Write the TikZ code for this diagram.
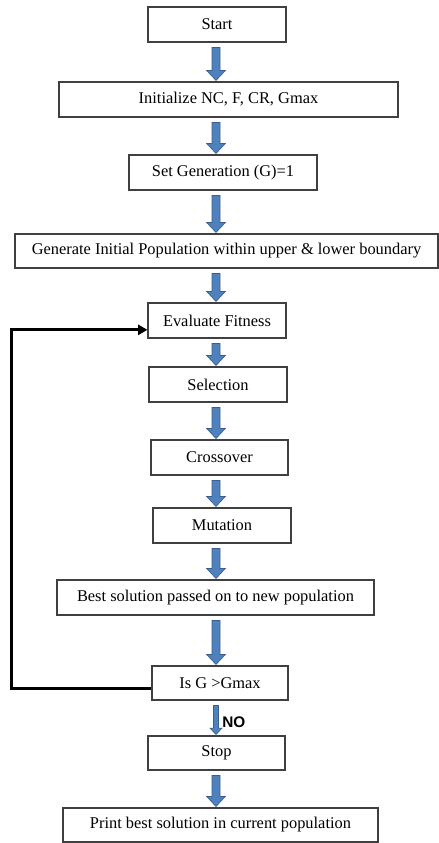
\documentclass[tikz,border=0pt]{standalone}
\usepackage{fontspec}
\setmainfont{Liberation Serif}
\newfontfamily\labelfont{Liberation Sans}
\usetikzlibrary{calc,arrows.meta}
\definecolor{arrowfill}{HTML}{4F81BD}
\definecolor{arrowline}{HTML}{3A5F8F}
\definecolor{boxline}{HTML}{404040}
\newcommand\pxu{0.75pt}
\tikzset{
  stepbox/.style 2 args={draw=boxline, line width=0.8pt, inner sep=0pt, minimum width=#1*\pxu, minimum height=#2*\pxu, font=\fontsize{12.3}{14}\selectfont},
  blockflow/.style n args={3}{draw=arrowline, fill=arrowfill, line width=0.5pt, line join=miter,
    to path={let \p1=(\tikztostart), \p2=(\tikztotarget) in
      (\x1-#1,\y1-3.75pt) -- (\x1+#1,\y1-3.75pt) -- (\x1+#1,\y2+#3) -- (\x1+#2,\y2+#3) -- (\x1,\y2+0.75pt) -- (\x1-#2,\y2+#3) -- (\x1-#1,\y2+#3) -- cycle}},
  flow/.style={blockflow={3pt}{7pt}{8.25pt}},
  loopback/.style={draw=black, line width=2.25pt, -{Triangle[length=7pt,width=7.5pt]}},
}

\begin{document}
\begin{tikzpicture}[x=0.75pt, y=-0.75pt]
\useasboundingbox (0,0) rectangle (439,843);
\coordinate (spine) at (216,0);
\coordinate (backx) at (11,0);
\node[stepbox={138}{35}] (start) at (217,24.5) {Start};
\node[stepbox={339}{35}] (init) at (228.5,99.5) {Initialize NC, F, CR, Gmax};
\node[stepbox={188}{35}] (setgen) at (223,172.5) {Set Generation (G)=1};
\node[stepbox={423}{34}] (genpop) at (226.5,251) {Generate Initial Population within upper \& lower boundary};
\node[stepbox={138}{35}] (eval) at (217,320.5) {Evaluate Fitness};
\node[stepbox={138}{35}] (select) at (218,384.5) {Selection};
\node[stepbox={137}{35}] (cross) at (219.5,457.5) {Crossover};
\node[stepbox={138}{35}] (mutate) at (222,525.5) {Mutation};
\node[stepbox={317}{35}] (best) at (215.5,597.5) {Best solution passed on to new population};
\node[stepbox={136}{34}] (isg) at (220,683) {Is G >Gmax};
\node[stepbox={137}{34}] (stop) at (216.5,753) {Stop};
\node[stepbox={315}{34}] (print) at (220.5,825) {Print best solution in current population};
% block arrows down the column
\draw[flow] (start.south -| spine) to (init.north -| spine);
\draw[flow] (init.south -| spine) to (setgen.north -| spine);
\draw[flow] (setgen.south -| spine) to (genpop.north -| spine);
\draw[flow] (genpop.south -| spine) to (eval.north -| spine);
\draw[flow] (eval.south -| spine) to (select.north -| spine);
\draw[flow] (select.south -| spine) to (cross.north -| spine);
\draw[flow] (cross.south -| spine) to (mutate.north -| spine);
\draw[flow] (mutate.south -| spine) to (best.north -| spine);
\draw[flow] (best.south -| spine) to (isg.north -| spine);
\draw[blockflow={1.9pt}{4.5pt}{5.5pt}] (isg.south -| spine) to (stop.north -| spine);
\draw[flow] (stop.south -| spine) to (print.north -| spine);
\node[font=\labelfont\bfseries\fontsize{11.5}{13}\selectfont, anchor=west, inner sep=0pt] (nolabel) at (222,722) {NO};
% loop back to fitness
\coordinate (isgout) at ([yshift=-3.75pt]isg.west);
\coordinate (evalin) at ([yshift=-7pt]eval.west);
\draw[loopback] (isgout) -- (isgout -| backx) |- (evalin);
\end{tikzpicture}
\end{document}
